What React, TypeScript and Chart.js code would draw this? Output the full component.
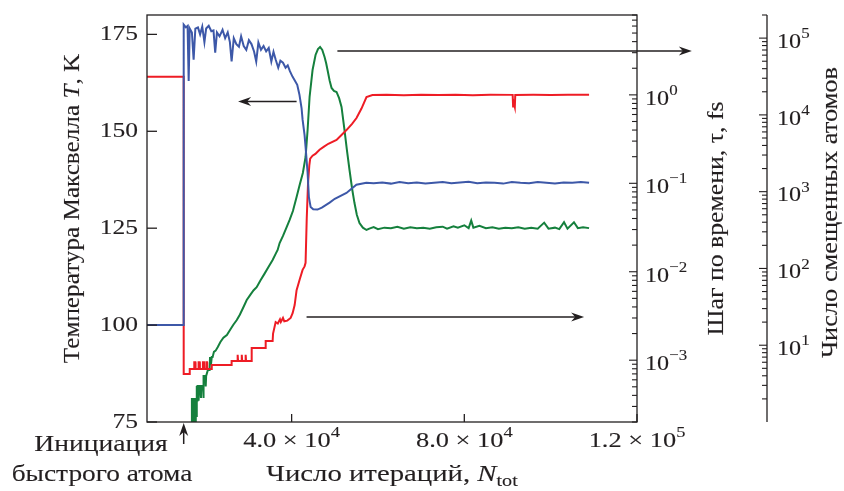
import { useEffect, useRef } from 'react';
import { Chart, registerables } from 'chart.js';

Chart.register(...registerables);

// ---------- axis ranges ----------
const X_MIN = 6500;
const X_MAX = 120000;
const T_MIN = 75;
const T_MAX = 180;
const TAU_MIN = 2e-4;
const TAU_MAX = 8;
const ATOM_MIN = 1;
const ATOM_MAX = 2e5;

// ---------- tick values / labels ----------
const xTicks = [40000, 80000, 120000];
const xTickBase = ['4.0 × 10', '8.0 × 10', '1.2 × 10'];
const xTickExp = ['4', '4', '5'];
const tTicks = [75, 100, 125, 150, 175];
const tauTicks = [1e-3, 1e-2, 1e-1, 1];
const tauTickExp = ['−3', '−2', '−1', '0'];
const atomTicks = [10, 100, 1000, 10000, 100000];
const atomTickExp = ['1', '2', '3', '4', '5'];

// ---------- series: [iterations, value] ----------
// Maxwell temperature T, K (left axis)
const temperature: [number, number][] = [
  [6500, 100], [15000, 100], [15000, 177.5], [15500, 176.8], [15900, 177.2], [16150, 163], [16400, 176.5],
  [16900, 175.5], [17300, 168.5], [17700, 176.5], [18300, 176.8], [18800, 175], [19300, 177], [19800, 173],
  [20200, 176.5], [20800, 177.2], [21400, 175.8], [21900, 176], [22300, 170.3], [22700, 175.5], [23300, 174.5],
  [24000, 176.2], [24600, 174], [25200, 175.5], [25700, 173], [26100, 168], [26600, 174], [27200, 172.5],
  [27800, 171.8], [28300, 174.5], [28900, 172], [29500, 171], [30100, 173.5], [30700, 172.5], [31300, 170.6],
  [31800, 168], [32300, 172.9], [32900, 171], [33500, 172], [34100, 170.6], [34700, 171.5], [35300, 168],
  [35800, 170.5], [36300, 168.5], [36900, 166.4], [37400, 168.2], [38000, 167.7], [38600, 166.4], [39100, 167],
  [39600, 165.5], [40200, 164.1], [40800, 163], [41300, 162], [41800, 159.5], [42300, 156], [42540, 153],
  [43000, 149], [43230, 146], [43700, 139.3], [44000, 133], [44400, 130.5], [45000, 129.9], [46000, 129.8],
  [47000, 130.3], [48800, 131.6], [50000, 132.6], [52700, 134.1], [55000, 136.2], [57300, 136.7],
  [59000, 136.6], [61000, 136.8], [63000, 136.5], [65000, 136.9], [67000, 136.6], [69000, 136.8],
  [71000, 136.5], [73000, 136.7], [75000, 136.9], [77000, 136.6], [79000, 136.8], [81000, 137.0],
  [83000, 136.6], [85000, 136.8], [87000, 136.7], [89000, 136.5], [91000, 136.9], [93000, 136.7],
  [95000, 136.6], [97000, 136.9], [99000, 136.7], [101000, 136.5], [103000, 136.8], [105000, 136.7],
  [107000, 136.9], [108900, 136.7],
];

// Time step tau, fs (first right axis, log)
const timeStep: [number, number][] = [
  [6500, 1.6], [15000, 1.6], [15000, 7.0e-4], [16400, 7.0e-4], [16400, 7.95e-4], [17400, 7.95e-4],
  [17450, 9.5e-4], [17700, 9.5e-4], [17750, 7.95e-4], [18400, 7.95e-4], [18450, 9.5e-4], [18700, 9.5e-4],
  [18750, 7.95e-4], [19400, 7.95e-4], [19450, 9.5e-4], [19700, 9.5e-4], [19750, 7.95e-4], [20200, 7.95e-4],
  [20250, 9.5e-4], [20400, 9.5e-4], [20450, 7.95e-4], [21500, 7.95e-4], [21500, 8.8e-4], [26100, 8.8e-4],
  [26100, 9.8e-4], [27450, 9.8e-4], [27500, 1.15e-3], [27600, 9.8e-4], [28400, 9.8e-4], [28450, 1.15e-3],
  [28550, 9.8e-4], [29300, 9.8e-4], [29350, 1.15e-3], [29450, 9.8e-4], [30750, 9.8e-4], [30750, 1.37e-3],
  [33990, 1.37e-3], [33990, 1.65e-3], [35600, 1.65e-3], [35700, 2.0e-3], [36300, 2.7e-3], [36800, 2.6e-3],
  [37300, 2.9e-3], [37500, 2.7e-3], [38000, 3.0e-3], [38300, 2.75e-3], [39000, 2.8e-3], [39770, 3.0e-3],
  [40230, 3.4e-3], [40700, 4.2e-3], [41150, 6.2e-3], [41850, 8.1e-3], [42540, 0.0105], [43000, 0.0115],
  [43230, 0.0126], [43500, 0.04], [43800, 0.1], [44100, 0.16], [44300, 0.19], [44850, 0.205], [45500, 0.215],
  [46470, 0.24], [47500, 0.26], [48500, 0.28], [50400, 0.309], [51500, 0.35], [52700, 0.4], [54000, 0.47],
  [55030, 0.547], [56180, 0.7], [57340, 0.946], [58720, 0.996], [62000, 1.0], [66000, 0.99], [70000, 1.005],
  [74000, 0.995], [78000, 1.0], [82000, 0.99], [86000, 1.005], [91200, 1.0], [91300, 0.74], [91500, 0.8],
  [91700, 0.73], [91800, 0.995], [96000, 1.0], [100000, 0.995], [104000, 1.005], [108900, 1.0],
];

// Number of displaced atoms (second right axis, log)
const displacedAtoms: [number, number][] = [
  [16880, 1], [16900, 2.05], [17000, 1], [17100, 2.05], [17200, 1], [17300, 2.05], [17450, 1], [17550, 2.05],
  [17700, 1], [17800, 2.05], [17950, 1.2], [18030, 2.94], [18100, 1.9], [18200, 2.94], [18400, 2.94],
  [18450, 1.9], [18600, 2.94], [18900, 2.94], [19000, 2.05], [19100, 2.94], [19500, 2.94], [19550, 2.05],
  [19650, 3.97], [20000, 3.97], [20100, 2.9], [20200, 3.97], [20600, 4.75], [21000, 4.75], [21100, 7.0],
  [21300, 5.5], [21500, 7.0], [21700, 7.0], [22000, 8.2], [22400, 8.5], [22900, 9.5], [23500, 11],
  [24200, 12.5], [25000, 13.6], [25800, 16], [26500, 18.5], [27300, 21.3], [28000, 25], [28800, 31],
  [29600, 38.8], [30500, 46], [31200, 52], [31900, 57], [32800, 70], [33700, 85], [34600, 104], [35600, 129],
  [36300, 155], [36760, 174], [37220, 214], [38000, 265], [38800, 340], [39540, 428], [40300, 560],
  [41150, 851], [41900, 1250], [42600, 1750], [43230, 2826], [43700, 6350], [44160, 17100], [44850, 38400],
  [45540, 60300], [46100, 72000], [46590, 76600], [47100, 70000], [47630, 56800], [48000, 47000],
  [48320, 38400], [48800, 28000], [49250, 22400], [49800, 20500], [50400, 19900], [51000, 16500],
  [51560, 12700], [52250, 6350], [52800, 3500], [53410, 1915], [54000, 1100], [54560, 711], [55100, 500],
  [55720, 391], [56500, 340], [57340, 317], [58000, 330], [59000, 345], [60000, 325], [61500, 340],
  [63000, 335], [64500, 350], [66000, 330], [67500, 345], [69000, 335], [70500, 340], [72000, 330],
  [73500, 345], [75000, 350], [76000, 330], [77500, 355], [78500, 340], [80000, 365], [81000, 335],
  [81600, 420], [82100, 340], [83500, 360], [85000, 335], [86500, 345], [88000, 330], [89500, 340],
  [91000, 335], [92500, 345], [94000, 330], [95500, 340], [97000, 330], [98500, 395], [99500, 330],
  [101000, 340], [102000, 325], [103100, 400], [103900, 330], [105400, 400], [106300, 335], [107500, 345],
  [108900, 335],
];

// ---------- annotation arrows (data coordinates: iterations, T) ----------
const arrowToTemp = { x1: 41150, x2: 27600, t: 157.7 };
const arrowToAtoms = { x1: 50600, x2: 132700, t: 170.7 };
const arrowToTau = { x1: 43460, x2: 107750, t: 102.1 };
const initiationX = 15000;

const BLUE = '#3d58a8';
const RED = '#ee1c25';
const GREEN = '#15803d';
const INK = '#231f20';
const FONT = '"Liberation Serif", "Times New Roman", serif';

type Part = { t: string; it?: boolean; sup?: boolean; sub?: boolean };

function fontFor(p: Part, size: number) {
  const s = p.sup || p.sub ? size * 0.7 : size;
  return `${p.it ? 'italic ' : ''}${s}px ${FONT}`;
}

function drawRich(
  ctx: CanvasRenderingContext2D,
  parts: Part[],
  x: number,
  y: number,
  align: 'left' | 'center' | 'right',
  size = 22,
  rot = 0,
  sx = 1.1,
) {
  ctx.save();
  ctx.translate(x, y);
  if (rot) ctx.rotate(rot);
  ctx.textBaseline = 'middle';
  ctx.textAlign = 'left';
  ctx.fillStyle = INK;
  ctx.strokeStyle = INK;
  ctx.lineWidth = 0.12;
  const ws: number[] = [];
  let w = 0;
  for (const p of parts) {
    ctx.font = fontFor(p, size);
    const m = ctx.measureText(p.t).width * sx;
    ws.push(m);
    w += m;
  }
  let cx = align === 'left' ? 0 : align === 'center' ? -w / 2 : -w;
  parts.forEach((p, i) => {
    ctx.font = fontFor(p, size);
    const dy = p.sup ? -size * 0.36 : p.sub ? size * 0.3 : 0;
    ctx.save();
    ctx.translate(cx, dy);
    ctx.scale(sx, 1);
    ctx.fillText(p.t, 0, 0);
    ctx.strokeText(p.t, 0, 0);
    ctx.restore();
    cx += ws[i];
  });
  ctx.restore();
}

function arrow(ctx: CanvasRenderingContext2D, x1: number, y1: number, x2: number, y2: number) {
  const ang = Math.atan2(y2 - y1, x2 - x1);
  const L = 13;
  const H = 4.5;
  ctx.save();
  ctx.strokeStyle = INK;
  ctx.fillStyle = INK;
  ctx.lineWidth = 1.5;
  ctx.beginPath();
  ctx.moveTo(x1, y1);
  ctx.lineTo(x2 - Math.cos(ang) * 8, y2 - Math.sin(ang) * 8);
  ctx.stroke();
  ctx.translate(x2, y2);
  ctx.rotate(ang);
  ctx.beginPath();
  ctx.moveTo(0, 0);
  ctx.lineTo(-L, -H);
  ctx.lineTo(-L + 4, 0);
  ctx.lineTo(-L, H);
  ctx.closePath();
  ctx.fill();
  ctx.restore();
}

function logTicks(min: number, max: number) {
  const out: { v: number; major: boolean }[] = [];
  for (let e = Math.floor(Math.log10(min)); e <= Math.ceil(Math.log10(max)); e++) {
    for (let k = 1; k <= 9; k++) {
      const v = k * Math.pow(10, e);
      if (v >= min * 0.9999 && v <= max * 1.0001) out.push({ v, major: k === 1 });
    }
  }
  return out;
}

const decorPlugin = {
  id: 'decor',
  afterDraw(chart: any) {
    const ctx: CanvasRenderingContext2D = chart.ctx;
    const { left, right, top, bottom } = chart.chartArea;
    const sx = chart.scales.x;
    const sy = chart.scales.y;
    const st = chart.scales.tau;
    const sa = chart.scales.atoms;
    ctx.save();
    ctx.strokeStyle = INK;
    ctx.lineWidth = 1.3;
    ctx.strokeRect(left, top, right - left, bottom - top);
    // atoms axis line
    ctx.beginPath();
    ctx.moveTo(sa.left, top);
    ctx.lineTo(sa.left, bottom);
    ctx.stroke();

    // left axis ticks + labels
    tTicks.forEach((v) => {
      const y = sy.getPixelForValue(v);
      ctx.strokeStyle = INK;
      ctx.lineWidth = 1.3;
      ctx.beginPath();
      ctx.moveTo(left, y);
      ctx.lineTo(left + 10, y);
      ctx.stroke();
      drawRich(ctx, [{ t: String(v) }], left - 9, y, 'right', 22, 0, 1.16);
    });

    // bottom ticks + labels
    xTicks.forEach((v, i) => {
      const x = sx.getPixelForValue(v);
      ctx.strokeStyle = INK;
      ctx.lineWidth = 1.3;
      ctx.beginPath();
      ctx.moveTo(x, bottom);
      ctx.lineTo(x, bottom - 8);
      ctx.stroke();
      drawRich(ctx, [{ t: xTickBase[i] }, { t: xTickExp[i], sup: true }], x, bottom + 19, 'center', 22, 0, 1.2);
    });

    // tau axis ticks (inside, on right border)
    ctx.strokeStyle = INK;
    ctx.lineWidth = 1.1;
    logTicks(TAU_MIN, TAU_MAX).forEach(({ v, major }) => {
      const y = st.getPixelForValue(v);
      ctx.beginPath();
      ctx.moveTo(right, y);
      ctx.lineTo(right - (major ? 8 : 5), y);
      ctx.stroke();
    });
    tauTicks.forEach((v, i) => {
      const y = st.getPixelForValue(v);
      drawRich(ctx, [{ t: '10' }, { t: tauTickExp[i], sup: true }], right + 8, y + 4, 'left');
    });

    // atoms axis ticks
    ctx.strokeStyle = INK;
    ctx.lineWidth = 1.1;
    logTicks(ATOM_MIN, ATOM_MAX).forEach(({ v, major }) => {
      const y = sa.getPixelForValue(v);
      if (y < top - 0.5 || y > bottom - 1) return;
      ctx.beginPath();
      ctx.moveTo(sa.left, y);
      ctx.lineTo(sa.left - (major ? 8 : 5), y);
      ctx.stroke();
    });
    atomTicks.forEach((v, i) => {
      const y = sa.getPixelForValue(v);
      drawRich(ctx, [{ t: '10' }, { t: atomTickExp[i], sup: true }], sa.left + 10, y + 4, 'left');
    });

    // axis titles
    const midY = (top + bottom) / 2;
    drawRich(
      ctx,
      [{ t: 'Температура Максвелла ' }, { t: 'T', it: true }, { t: ', K' }],
      73,
      midY - 10,
      'center',
      23,
      -Math.PI / 2,
      1.095,
    );
    drawRich(
      ctx,
      [{ t: 'Число итераций, ' }, { t: 'N', it: true }, { t: 'tot', sub: true }],
      (left + right) / 2,
      bottom + 53,
      'center',
      23,
      0,
      1.25,
    );
    drawRich(ctx, [{ t: 'Шаг по времени, τ, fs' }], right + 80, midY, 'center', 23, -Math.PI / 2, 1.12);
    drawRich(ctx, [{ t: 'Число смещенных атомов' }], sa.left + 64, midY - 6, 'center', 23, -Math.PI / 2, 1.147);

    // annotation: initiation of fast atom
    const ix = sx.getPixelForValue(initiationX);
    arrow(ctx, ix, bottom + 22, ix, bottom + 1);
    drawRich(ctx, [{ t: 'Инициация' }], 101, bottom + 23, 'center', 23, 0, 1.2);
    drawRich(ctx, [{ t: 'быстрого атома' }], 102, bottom + 53, 'center', 23, 0, 1.19);

    // arrows pointing to axes
    for (const a of [arrowToTemp, arrowToAtoms, arrowToTau]) {
      const y = sy.getPixelForValue(a.t);
      arrow(ctx, sx.getPixelForValue(a.x1), y, sx.getPixelForValue(a.x2), y);
    }
    ctx.restore();
  },
};

const toPts = (arr: [number, number][]) => arr.map(([x, y]) => ({ x, y }));

const hidden = {
  grid: { display: false },
  border: { display: false },
  ticks: { display: false },
  title: { display: false },
};

export default function App() {
  const ref = useRef<HTMLCanvasElement>(null);
  useEffect(() => {
    const chart = new Chart(ref.current as HTMLCanvasElement, {
      type: 'line',
      data: {
        datasets: [
          {
            label: 'T',
            data: toPts(temperature),
            yAxisID: 'y',
            borderColor: BLUE,
            borderWidth: 2,
            pointRadius: 0,
            tension: 0,
          },
          {
            label: 'tau',
            data: toPts(timeStep),
            yAxisID: 'tau',
            borderColor: RED,
            borderWidth: 2,
            pointRadius: 0,
            tension: 0,
          },
          {
            label: 'atoms',
            data: toPts(displacedAtoms),
            yAxisID: 'atoms',
            borderColor: GREEN,
            borderWidth: 2,
            pointRadius: 0,
            tension: 0,
          },
        ],
      },
      options: {
        animation: false,
        responsive: false,
        devicePixelRatio: 1,
        parsing: false as any,
        layout: { padding: { top: 15, left: 0, right: 0, bottom: 0 } },
        plugins: { legend: { display: false }, tooltip: { enabled: false } },
        scales: {
          x: {
            type: 'linear',
            position: 'bottom',
            min: X_MIN,
            max: X_MAX,
            ...hidden,
            afterFit: (s: any) => {
              s.height = 69;
            },
          },
          y: {
            type: 'linear',
            position: 'left',
            min: T_MIN,
            max: T_MAX,
            ...hidden,
            afterFit: (s: any) => {
              s.width = 147;
            },
          },
          tau: {
            type: 'logarithmic',
            position: 'right',
            min: TAU_MIN,
            max: TAU_MAX,
            ...hidden,
            afterFit: (s: any) => {
              s.width = 130;
            },
          },
          atoms: {
            type: 'logarithmic',
            position: 'right',
            min: ATOM_MIN,
            max: ATOM_MAX,
            ...hidden,
            afterFit: (s: any) => {
              s.width = 77;
            },
          },
        } as any,
      },
      plugins: [decorPlugin],
    });
    return () => chart.destroy();
  }, []);
  return (
    <div style={{ position: 'fixed', left: 0, top: 0, width: 844, height: 491, background: '#fff' }}>
      <canvas ref={ref} width={844} height={491} style={{ display: 'block', width: 844, height: 491 }} />
    </div>
  );
}
